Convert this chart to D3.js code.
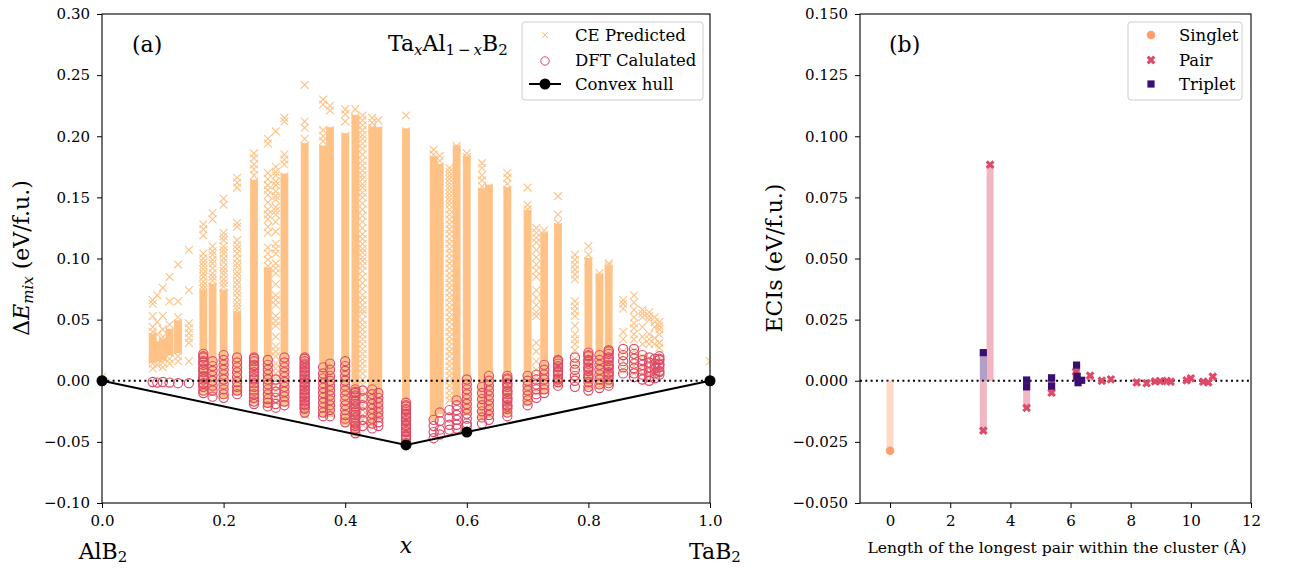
<!DOCTYPE html>
<html>
<head>
<meta charset="utf-8">
<script src="https://cdn.jsdelivr.net/npm/d3@7"></script>
<style>
  body { margin: 0; background: #fff; }
  svg { display: block; }
  text { font-family: "DejaVu Serif", serif; fill: #000; }
</style>
</head>
<body>
<svg id="chart" width="1304" height="569"></svg>
<script>
// ---------- (a) mixing energies of TaxAl1-xB2 ----------
const compositions = [0, 1/12, 1/11, 1/10, 1/9, 1/8, 1/7, 1/6, 2/11, 1/5, 2/9, 1/4, 3/11, 2/7, 3/10, 1/3,
  4/11, 3/8, 2/5, 5/12, 3/7, 4/9, 5/11, 1/2, 6/11, 5/9, 4/7, 7/12, 3/5, 5/8, 7/11, 2/3, 7/10, 5/7,
  8/11, 3/4, 7/9, 4/5, 9/11, 5/6, 6/7, 7/8, 8/9, 9/10, 10/11, 11/12, 1];

// densely packed CE predictions: lowest / highest energy of the solid run
const ceDenseLow = [null, 0.017, 0.018, 0.019, 0.023, 0.025, null, -0.008, -0.010, -0.012, -0.009, -0.017, -0.019, null, -0.018, -0.028,
  -0.027, -0.027, -0.034, -0.043, null, -0.035, -0.030, -0.050, -0.030, -0.025, null, -0.016, -0.026, -0.030, -0.028, -0.026, -0.018, null,
  -0.008, -0.003, null, -0.005, -0.004, -0.002, null, null, null, null, null, null, null];
const ceDenseHigh = [null, 0.036, 0.030, 0.032, 0.040, 0.047, null, 0.072, 0.077, 0.072, 0.054, 0.162, 0.090, null, 0.167, 0.192,
  0.190, 0.205, 0.200, 0.215, null, 0.205, 0.205, 0.204, 0.181, 0.175, null, 0.190, 0.181, 0.155, 0.158, 0.156, 0.137, null,
  0.119, 0.126, null, 0.098, 0.085, 0.092, null, null, null, null, null, null, null];

// isolated CE predictions (eV/f.u.) for each composition
const ceIsolated = [
  [0.003],
  [0.066, 0.063, 0.053, 0.044, 0.040, 0.014, 0.010],
  [0.070, 0.048, 0.038, 0.013],
  [0.076, 0.053, 0.042, 0.036, 0.015, 0.011],
  [0.085, 0.065, 0.046, 0.018, 0.014],
  [0.095, 0.065, 0.052, 0.020, 0.016],
  [0.107, 0.074, 0.047, 0.043, 0.039, 0.035, 0.031, 0.016],
  [0.128, 0.124, 0.119, 0.104, 0.100, 0.097, 0.094, 0.091, 0.088, 0.085, 0.081, 0.078, 0.075],
  [0.137, 0.132, 0.110, 0.106, 0.103, 0.099, 0.096, 0.092, 0.088, 0.085, 0.082],
  [0.149, 0.144, 0.121, 0.118, 0.115, 0.110, 0.107, 0.104, 0.100, 0.097, 0.093, 0.090, 0.087, 0.083, 0.080, 0.077],
  [0.166, 0.162, 0.158, 0.129, 0.126, 0.115, 0.111, 0.108, 0.104, 0.100, 0.096, 0.093, 0.089, 0.086, 0.082, 0.079, 0.075,
   0.072, 0.068, 0.064, 0.061, 0.058],
  [0.186, 0.182, 0.177, 0.173, 0.168],
  [0.198, 0.194, 0.170, 0.165, 0.160, 0.156, 0.152, 0.146, 0.140, 0.136, 0.132, 0.126, 0.121, 0.109, 0.104, 0.099, 0.094],
  [0.204, 0.175, 0.171, 0.168, 0.163, 0.160, 0.155, 0.151, 0.148, 0.142, 0.139, 0.136, 0.130, 0.122, 0.112, 0.108, 0.104,
   0.096, 0.092, 0.088, 0.079, 0.070, 0.066, 0.062, 0.053, 0.049, 0.045, 0.036, 0.028, 0.024, 0.020, 0.014, 0.010, 0.006,
   0.002, -0.004, -0.008, -0.013, -0.018],
  [0.215, 0.212, 0.185, 0.181, 0.177],
  [0.242, 0.212, 0.207, 0.198],
  [0.230, 0.226, 0.205, 0.200, 0.196],
  [0.225, 0.221],
  [0.222, 0.218, 0.212],
  [0.222],
  [0.217, 0.213, 0.209, 0.205, 0.201, 0.198, 0.194, 0.190, 0.185, 0.180, 0.176, 0.172, 0.168, 0.165, 0.161, 0.158, 0.154,
   0.150, 0.145, 0.140, 0.135, 0.130, 0.125, 0.120, 0.116, 0.112, 0.108, 0.105, 0.101, 0.098, 0.094, 0.090, 0.085, 0.080,
   0.075, 0.070, 0.066, 0.062, 0.058, 0.055, 0.050, 0.046, 0.042, 0.038, 0.034, 0.030, 0.026, 0.022, 0.018, 0.014, 0.010,
   0.006, 0.001, -0.003, -0.008, -0.012, -0.016, -0.020, -0.024, -0.028, -0.032, -0.036],
  [0.215, 0.211, 0.207],
  [0.213],
  [0.217],
  [0.189, 0.185],
  [0.184, 0.180],
  [0.174, 0.171, 0.168, 0.165, 0.162, 0.159, 0.156, 0.153, 0.150, 0.147, 0.144, 0.140, 0.136, 0.132, 0.128, 0.124, 0.120,
   0.116, 0.112, 0.108, 0.104, 0.100, 0.096, 0.092, 0.088, 0.084, 0.080, 0.076, 0.072, 0.068, 0.064, 0.060, 0.056, 0.052,
   0.048, 0.044, 0.040, 0.036, 0.032, 0.028, 0.024, 0.020, 0.016, 0.012, 0.008, 0.004, 0.000, -0.004, -0.008, -0.012, -0.016],
  [0.192],
  [0.186, 0.183],
  [0.178, 0.174, 0.168, 0.164, 0.159],
  [],
  [0.170, 0.166, 0.161],
  [0.158, 0.144, 0.140],
  [0.125, 0.121, 0.117, 0.113, 0.107, 0.101, 0.095, 0.090, 0.085, 0.074, 0.068, 0.062, 0.056, 0.053, 0.031, 0.024, 0.016,
   0.009, 0.004, -0.002, -0.008],
  [0.123],
  [0.151, 0.136, 0.129],
  [0.103, 0.099, 0.095, 0.091, 0.087, 0.083, 0.065, 0.061, 0.057, 0.053, 0.045, 0.038, 0.034, 0.030, 0.025, 0.018, 0.012,
   0.006, 0.000],
  [0.110, 0.103],
  [0.088],
  [0.096, 0.094],
  [0.066, 0.063, 0.059, 0.040, 0.034, 0.024, 0.016, 0.009],
  [0.070, 0.064, 0.058, 0.052, 0.047, 0.043, 0.038, 0.034, 0.025, 0.018, 0.012, 0.006],
  [0.058, 0.055, 0.052, 0.044, 0.036, 0.030, 0.020, 0.012, 0.006],
  [0.056, 0.053, 0.050, 0.038, 0.034, 0.030, 0.018, 0.010, 0.004],
  [0.052, 0.048, 0.044, 0.035, 0.030, 0.016, 0.008],
  [0.048, 0.045, 0.042, 0.038, 0.031, 0.027, 0.018, 0.012, 0.007],
  [0.016]
];

// DFT calculated mixing energies (eV/f.u.)
const dftEnergies = [
  [],
  [-0.001],
  [-0.0015],
  [-0.001],
  [-0.0015],
  [-0.002],
  [-0.002],
  [0.022, 0.020, 0.019, 0.016, 0.015, 0.013, 0.010, 0.009, 0.007, 0.004, 0.003, 0.001, -0.002, -0.003, -0.005, -0.008, -0.010],
  [0.016, 0.012, 0.008, 0.004, 0.000, -0.004, -0.008, -0.013],
  [0.021, 0.017, 0.013, 0.009, 0.005, 0.001, -0.003, -0.007, -0.011, -0.014],
  [0.019, 0.015, 0.011, 0.007, 0.003, -0.001, -0.005, -0.008, -0.011],
  [0.019, 0.018, 0.016, 0.013, 0.012, 0.010, 0.007, 0.004, 0.002, 0.001, -0.002, -0.005, -0.008, -0.011, -0.014, -0.017, -0.019],
  [0.017, 0.013, 0.009, 0.005, 0.001, -0.003, -0.007, -0.011, -0.015, -0.018, -0.021],
  [0.001, -0.004, -0.009, -0.014, -0.019, -0.022],
  [0.019, 0.015, 0.011, 0.007, 0.003, -0.001, -0.005, -0.009, -0.013, -0.017, -0.020],
  [0.019, 0.018, 0.016, 0.014, 0.013, 0.011, 0.010, 0.008, 0.007, 0.005, 0.004, 0.002, 0.001, -0.001, -0.002, -0.004, -0.005,
   -0.007, -0.008, -0.010, -0.011, -0.013, -0.014, -0.016, -0.017, -0.019, -0.020, -0.022, -0.023, -0.026],
  [0.011, 0.006, 0.002, -0.002, -0.006, -0.010, -0.014, -0.018, -0.022, -0.026, -0.029],
  [0.014, 0.009, 0.004, 0.000, -0.004, -0.008, -0.012, -0.016, -0.020, -0.024, -0.029],
  [0.016, 0.012, 0.008, 0.004, 0.000, -0.004, -0.008, -0.012, -0.016, -0.020, -0.024, -0.028, -0.031, -0.034],
  [-0.007, -0.009, -0.010, -0.012, -0.013, -0.016, -0.017, -0.019, -0.021, -0.022, -0.025, -0.026, -0.028, -0.030, -0.031,
   -0.034, -0.035, -0.037, -0.039, -0.040, -0.043],
  [-0.008, -0.014, -0.020, -0.026, -0.032, -0.037],
  [-0.007, -0.011, -0.015, -0.019, -0.023, -0.027, -0.031, -0.035, -0.039],
  [-0.010, -0.014, -0.018, -0.022, -0.026, -0.030, -0.034, -0.037],
  [-0.018, -0.020, -0.021, -0.023, -0.024, -0.027, -0.028, -0.030, -0.032, -0.033, -0.036, -0.037, -0.039, -0.041, -0.042,
   -0.045, -0.046, -0.048, -0.051],
  [-0.032, -0.037, -0.042, -0.047],
  [-0.026, -0.033, -0.040, -0.044],
  [-0.024, -0.030, -0.036, -0.040],
  [-0.016, -0.020, -0.024, -0.028, -0.032, -0.036, -0.039],
  [0.001, -0.003, -0.007, -0.011, -0.015, -0.019, -0.023, -0.027, -0.031, -0.035, -0.037],
  [-0.005, -0.010, -0.015, -0.020, -0.025, -0.030, -0.035],
  [0.004, 0.000, -0.004, -0.008, -0.012, -0.016, -0.020, -0.024, -0.028, -0.032],
  [0.004, 0.002, 0.001, -0.002, -0.003, -0.005, -0.008, -0.009, -0.011, -0.014, -0.015, -0.017, -0.020, -0.021, -0.023,
   -0.026, -0.029],
  [0.004, 0.000, -0.004, -0.008, -0.012, -0.016, -0.020],
  [0.005, 0.001, -0.003, -0.007, -0.011, -0.014],
  [0.013, 0.009, 0.005, 0.001, -0.003, -0.007, -0.010],
  [0.017, 0.016, 0.014, 0.012, 0.011, 0.008, 0.007, 0.005, 0.002, 0.001, -0.001, -0.004],
  [0.019, 0.014, 0.009, 0.004, 0.000, -0.005],
  [0.023, 0.021, 0.020, 0.017, 0.016, 0.014, 0.011, 0.010, 0.008, 0.005, 0.003, 0.002, -0.001, -0.005, -0.008],
  [0.021, 0.017, 0.013, 0.009, 0.005, 0.001, -0.003, -0.006],
  [0.025, 0.024, 0.022, 0.019, 0.018, 0.016, 0.013, 0.012, 0.010, 0.007, 0.006, 0.004, 0.001, -0.002, -0.004],
  [0.026, 0.021, 0.016, 0.011, 0.006],
  [0.026, 0.022, 0.018, 0.014, 0.010, 0.006, 0.003],
  [0.021, 0.017, 0.013, 0.009, 0.005, 0.001],
  [0.019, 0.015, 0.011, 0.007, 0.003, 0.000],
  [0.018, 0.014, 0.010, 0.006, 0.002],
  [0.020, 0.018, 0.017, 0.014, 0.013, 0.011, 0.008, 0.007, 0.005],
  []
];

const hullX = [0, 0.5, 0.6, 1];
const hullY = [0, -0.0525, -0.042, 0];

const xTicksA = [0, 0.2, 0.4, 0.6, 0.8, 1.0];
const yTicksA = [-0.10, -0.05, 0.00, 0.05, 0.10, 0.15, 0.20, 0.25, 0.30];

// ---------- (b) effective cluster interactions ----------
const singletLength = [0];
const singletEci = [-0.0286];
const pairLength = [3.10, 3.325, 4.54, 5.37, 6.18, 6.65, 7.04, 7.34, 8.20, 8.53, 8.81, 8.98, 9.20, 9.33, 9.86, 10.00, 10.41, 10.58, 10.73];
const pairEci = [-0.0204, 0.0884, -0.0111, -0.0049, 0.0037, 0.0021, 0.0000, 0.0006, -0.0007, -0.0010, -0.0003, -0.0002, -0.0001, -0.0004, 0.0002, 0.0010, -0.0004, -0.0007, 0.0017];
const tripletLength = [3.10, 4.54, 4.54, 5.37, 5.37, 6.20, 6.22, 6.25, 6.37];
const tripletEci = [0.0115, 0.0003, -0.0025, 0.0012, -0.0022, 0.0064, 0.0018, -0.0008, 0.0002];

const xTicksB = [0, 2, 4, 6, 8, 10, 12];
const yTicksB = [-0.050, -0.025, 0.000, 0.025, 0.050, 0.075, 0.100, 0.125, 0.150];

// ---------- styling ----------
const ceColor = "#fec287";
const dftColor = "#de4968";
const singletColor = "#fe9f6d";
const pairColor = "#de4968";
const tripletColor = "#3b0f70";
const tickFont = 15;
const labelFont = 22;

const svg = d3.select("#chart");

function crossPath(s) {
  return `M${-s},${-s}L${s},${s}M${-s},${s}L${s},${-s}`;
}

function drawAxes(g, x, y, xTicks, yTicks, xFmt, yFmt) {
  const [x0, x1] = x.range();
  const [y0, y1] = y.range();
  g.append("g").attr("transform", `translate(0,${y0})`)
    .call(d3.axisBottom(x).tickValues(xTicks).tickFormat(xFmt).tickSize(5).tickPadding(7))
    .call(a => a.select(".domain").remove())
    .call(a => a.selectAll("text").attr("font-size", tickFont).attr("font-family", "DejaVu Serif"));
  g.append("g").attr("transform", `translate(${x0},0)`)
    .call(d3.axisLeft(y).tickValues(yTicks).tickFormat(yFmt).tickSize(5).tickPadding(7))
    .call(a => a.select(".domain").remove())
    .call(a => a.selectAll("text").attr("font-size", tickFont).attr("font-family", "DejaVu Serif"));
  g.append("rect").attr("x", x0).attr("y", y1).attr("width", x1 - x0).attr("height", y0 - y1)
    .attr("fill", "none").attr("stroke", "#000").attr("stroke-width", 1.1);
}

// ===== panel (a) =====
const xA = d3.scaleLinear().domain([0, 1]).range([102, 710]);
const yA = d3.scaleLinear().domain([-0.1, 0.3]).range([503, 14]);
const gA = svg.append("g");
svg.append("clipPath").attr("id", "clipA").append("rect")
  .attr("x", 102).attr("y", 14).attr("width", 608).attr("height", 489);
const plotA = gA.append("g").attr("clip-path", "url(#clipA)");

// CE predicted: solid runs of overlapping markers
const dense = compositions.map((c, i) => ({ c, lo: ceDenseLow[i], hi: ceDenseHigh[i] }))
  .filter(d => d.lo !== null);
plotA.append("g").selectAll("rect").data(dense).join("rect")
  .attr("x", d => xA(d.c) - 3.9)
  .attr("y", d => yA(d.hi) - 3)
  .attr("width", 7.8)
  .attr("height", d => yA(d.lo) - yA(d.hi) + 6)
  .attr("fill", ceColor);

// CE predicted: individual markers (incl. the ends of the solid runs)
const cePoints = [];
compositions.forEach((c, i) => {
  ceIsolated[i].forEach(v => cePoints.push([c, v]));
  if (ceDenseLow[i] !== null) { cePoints.push([c, ceDenseHigh[i]]); cePoints.push([c, ceDenseLow[i]]); }
});
plotA.append("g").selectAll("path").data(cePoints).join("path")
  .attr("transform", d => `translate(${xA(d[0])},${yA(d[1])})`)
  .attr("d", crossPath(3.9))
  .attr("stroke", ceColor).attr("stroke-width", 1.1).attr("fill", "none");

// DFT calculated
const dftPoints = [];
compositions.forEach((c, i) => dftEnergies[i].forEach(v => dftPoints.push([c, v])));
plotA.append("g").selectAll("circle").data(dftPoints).join("circle")
  .attr("cx", d => xA(d[0])).attr("cy", d => yA(d[1])).attr("r", 4.6)
  .attr("fill", "none").attr("stroke", dftColor).attr("stroke-width", 1.15);

// zero reference
plotA.append("line").attr("x1", xA(0)).attr("x2", xA(1)).attr("y1", yA(0)).attr("y2", yA(0))
  .attr("stroke", "#000").attr("stroke-width", 2).attr("stroke-dasharray", "2,3.3");

// convex hull
const hull = hullX.map((v, i) => [v, hullY[i]]);
gA.append("path").datum(hull)
  .attr("d", d3.line().x(d => xA(d[0])).y(d => yA(d[1])))
  .attr("fill", "none").attr("stroke", "#000").attr("stroke-width", 2);
gA.append("g").selectAll("circle").data(hull).join("circle")
  .attr("cx", d => xA(d[0])).attr("cy", d => yA(d[1])).attr("r", 5.5).attr("fill", "#000");

drawAxes(gA, xA, yA, xTicksA, yTicksA, d3.format(".1f"), d3.format(".2f"));

// labels (a)
gA.append("text").attr("x", 132).attr("y", 52).attr("font-size", labelFont).text("(a)");
const formula = gA.append("text").attr("x", 388).attr("y", 51).attr("font-size", labelFont);
formula.append("tspan").text("Ta");
formula.append("tspan").attr("font-size", 15).attr("font-style", "italic").attr("dy", 4).text("x");
formula.append("tspan").attr("dy", -4).text("Al");
formula.append("tspan").attr("font-size", 15).attr("dy", 4).text("1\u2009\u2212\u2009");
formula.append("tspan").attr("font-size", 15).attr("font-style", "italic").text("x");
formula.append("tspan").attr("dy", -4).text("B");
formula.append("tspan").attr("font-size", 15).attr("dy", 4).text("2");

const yLabA = gA.append("text").attr("transform", "translate(29,258) rotate(-90)")
  .attr("text-anchor", "middle").attr("font-size", labelFont);
yLabA.append("tspan").text("\u0394");
yLabA.append("tspan").attr("font-style", "italic").text("E");
yLabA.append("tspan").attr("font-style", "italic").attr("font-size", 15).attr("dy", 4).text("mix");
yLabA.append("tspan").attr("dy", -4).text(" (eV/f.u.)");

gA.append("text").attr("x", 406).attr("y", 553).attr("text-anchor", "middle")
  .attr("font-size", labelFont).attr("font-style", "italic").text("x");

function compound(x, name) {
  const t = gA.append("text").attr("x", x).attr("y", 559).attr("text-anchor", "middle").attr("font-size", labelFont);
  t.append("tspan").text(name);
  t.append("tspan").attr("font-size", 15).attr("dy", 3).text("2");
}
compound(103, "AlB");
compound(715, "TaB");

// legend (a)
const legA = gA.append("g");
legA.append("rect").attr("x", 522).attr("y", 22).attr("width", 181).attr("height", 78).attr("rx", 3)
  .attr("fill", "#fff").attr("fill-opacity", 0.8).attr("stroke", "#ccc");
legA.append("path").attr("transform", "translate(545,35)").attr("d", crossPath(3))
  .attr("stroke", ceColor).attr("stroke-width", 1).attr("fill", "none");
legA.append("circle").attr("cx", 545).attr("cy", 61).attr("r", 4.2)
  .attr("fill", "none").attr("stroke", dftColor).attr("stroke-width", 1);
legA.append("line").attr("x1", 529).attr("x2", 561).attr("y1", 84).attr("y2", 84)
  .attr("stroke", "#000").attr("stroke-width", 2);
legA.append("circle").attr("cx", 545).attr("cy", 84).attr("r", 5.5).attr("fill", "#000");
["CE Predicted", "DFT Calulated", "Convex hull"].forEach((t, i) => {
  legA.append("text").attr("x", 575).attr("y", 41 + i * 24.5).attr("font-size", 16.5).text(t);
});

// ===== panel (b) =====
const xB = d3.scaleLinear().domain([-1, 12]).range([860, 1251]);
const yB = d3.scaleLinear().domain([-0.05, 0.15]).range([503, 14]);
const gB = svg.append("g");
svg.append("clipPath").attr("id", "clipB").append("rect")
  .attr("x", 860).attr("y", 14).attr("width", 391).attr("height", 489);
const plotB = gB.append("g").attr("clip-path", "url(#clipB)");

plotB.append("line").attr("x1", xB(-1)).attr("x2", xB(12)).attr("y1", yB(0)).attr("y2", yB(0))
  .attr("stroke", "#000").attr("stroke-width", 2).attr("stroke-dasharray", "2,3.3");

function stems(lengths, values, color) {
  const data = lengths.map((l, i) => [l, values[i]]);
  plotB.append("g").selectAll("rect").data(data).join("rect")
    .attr("x", d => xB(d[0]) - 3.5)
    .attr("y", d => Math.min(yB(0), yB(d[1])))
    .attr("width", 7)
    .attr("height", d => Math.abs(yB(d[1]) - yB(0)))
    .attr("fill", color).attr("fill-opacity", 0.4);
  return data;
}
const singles = stems(singletLength, singletEci, singletColor);
const pairs = stems(pairLength, pairEci, pairColor);
const triplets = stems(tripletLength, tripletEci, tripletColor);

plotB.append("g").selectAll("circle").data(singles).join("circle")
  .attr("cx", d => xB(d[0])).attr("cy", d => yB(d[1])).attr("r", 4.3).attr("fill", singletColor);
const xSymbol = d3.symbol(d3.symbolCross, 48)();
plotB.append("g").selectAll("path").data(pairs).join("path")
  .attr("transform", d => `translate(${xB(d[0])},${yB(d[1])}) rotate(45)`)
  .attr("d", xSymbol).attr("fill", pairColor);
plotB.append("g").selectAll("rect").data(triplets).join("rect")
  .attr("x", d => xB(d[0]) - 3.6).attr("y", d => yB(d[1]) - 3.6)
  .attr("width", 7.2).attr("height", 7.2).attr("fill", tripletColor);

drawAxes(gB, xB, yB, xTicksB, yTicksB, d3.format("d"), d3.format(".3f"));

gB.append("text").attr("x", 889).attr("y", 52).attr("font-size", labelFont).text("(b)");
gB.append("text").attr("transform", "translate(782,258) rotate(-90)")
  .attr("text-anchor", "middle").attr("font-size", labelFont).text("ECIs (eV/f.u.)");
gB.append("text").attr("x", 1057).attr("y", 553).attr("text-anchor", "middle")
  .attr("font-size", 15.6).text("Length of the longest pair within the cluster (\u00c5)");

// legend (b)
const legB = gB.append("g");
legB.append("rect").attr("x", 1128).attr("y", 22).attr("width", 114).attr("height", 78).attr("rx", 3)
  .attr("fill", "#fff").attr("fill-opacity", 0.8).attr("stroke", "#ccc");
legB.append("circle").attr("cx", 1151).attr("cy", 35).attr("r", 4.3).attr("fill", singletColor);
legB.append("path").attr("transform", "translate(1151,60) rotate(45)").attr("d", xSymbol).attr("fill", pairColor);
legB.append("rect").attr("x", 1147.4).attr("y", 80.4).attr("width", 7.2).attr("height", 7.2).attr("fill", tripletColor);
["Singlet", "Pair", "Triplet"].forEach((t, i) => {
  legB.append("text").attr("x", 1179).attr("y", 41 + i * 24.5).attr("font-size", 16.5).text(t);
});
</script>
</body>
</html>
